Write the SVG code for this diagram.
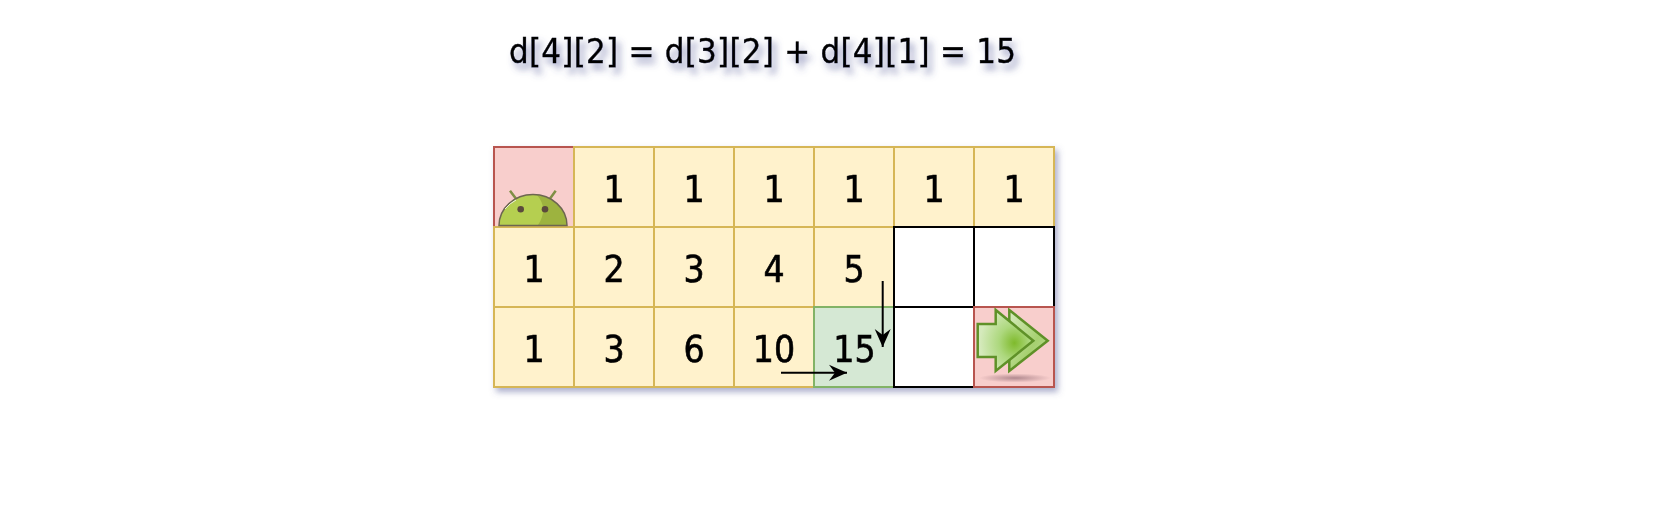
<svg xmlns="http://www.w3.org/2000/svg" width="1670" height="524" viewBox="0 0 1670 524">
<style>
.c{stroke-width:2}
.y{fill:#fff2cc;stroke:#d6b656}
.r{fill:#f8cecc;stroke:#b85450}
.g{fill:#d5e8d4;stroke:#82b366}
.w{fill:#fff;stroke:#000}
text{font-family:"DejaVu Sans Condensed","DejaVu Sans",sans-serif;font-stretch:condensed;fill:#000;stroke:#000;stroke-width:.6;text-anchor:middle}
.n{font-size:37px}
.t{font-size:34.500px;stroke-width:.4}
.l{stroke:#000;stroke-width:2;fill:none;marker-end:url(#a)}
</style>
<defs>
<filter id="s" x="-10%" y="-30%" width="120%" height="170%"><feDropShadow dx="3" dy="4" stdDeviation="3" flood-color="#5a5f9a" flood-opacity=".5"/></filter>
<filter id="st" x="-10%" y="-50%" width="120%" height="220%"><feDropShadow dx="4" dy="6" stdDeviation="3.500" flood-color="#4a5090" flood-opacity=".6"/></filter>
<marker id="a" markerUnits="userSpaceOnUse" markerWidth="20" markerHeight="18" refX="19" refY="9" orient="auto"><path d="M1 1L19 9L1 17L7 9Z" fill="#000"/></marker>
<linearGradient id="ga" x1="0" y1="0" x2="1" y2="1"><stop offset="0" stop-color="#d8ecc0"/><stop offset=".6" stop-color="#a6d070"/><stop offset="1" stop-color="#c3e0a0"/></linearGradient>
<radialGradient id="gb" cx=".66" cy=".54" r=".62"><stop offset="0" stop-color="#7fba2c"/><stop offset=".45" stop-color="#add87e"/><stop offset="1" stop-color="#d5eabc"/></radialGradient>
<radialGradient id="gs"><stop offset="0" stop-color="#a07880" stop-opacity=".8"/><stop offset="1" stop-color="#a07880" stop-opacity="0"/></radialGradient>
</defs>
<g id="title" filter="url(#st)"><text class="t" x="762.500" y="62.500" textLength="507">d[4][2] = d[3][2] + d[4][1] = 15</text></g>
<g id="grid" filter="url(#s)">
<g id="c00"><rect class="c r" x="494" y="147" width="80" height="80"/></g>
<g id="c10"><rect class="c y" x="574" y="147" width="80" height="80"/><text class="n" x="614" y="202">1</text></g>
<g id="c20"><rect class="c y" x="654" y="147" width="80" height="80"/><text class="n" x="694" y="202">1</text></g>
<g id="c30"><rect class="c y" x="734" y="147" width="80" height="80"/><text class="n" x="774" y="202">1</text></g>
<g id="c40"><rect class="c y" x="814" y="147" width="80" height="80"/><text class="n" x="854" y="202">1</text></g>
<g id="c50"><rect class="c y" x="894" y="147" width="80" height="80"/><text class="n" x="934" y="202">1</text></g>
<g id="c60"><rect class="c y" x="974" y="147" width="80" height="80"/><text class="n" x="1014" y="202">1</text></g>
<g id="c01"><rect class="c y" x="494" y="227" width="80" height="80"/><text class="n" x="534" y="282">1</text></g>
<g id="c11"><rect class="c y" x="574" y="227" width="80" height="80"/><text class="n" x="614" y="282">2</text></g>
<g id="c21"><rect class="c y" x="654" y="227" width="80" height="80"/><text class="n" x="694" y="282">3</text></g>
<g id="c31"><rect class="c y" x="734" y="227" width="80" height="80"/><text class="n" x="774" y="282">4</text></g>
<g id="c41"><rect class="c y" x="814" y="227" width="80" height="80"/><text class="n" x="854" y="282">5</text></g>
<g id="c02"><rect class="c y" x="494" y="307" width="80" height="80"/><text class="n" x="534" y="362">1</text></g>
<g id="c12"><rect class="c y" x="574" y="307" width="80" height="80"/><text class="n" x="614" y="362">3</text></g>
<g id="c22"><rect class="c y" x="654" y="307" width="80" height="80"/><text class="n" x="694" y="362">6</text></g>
<g id="c32"><rect class="c y" x="734" y="307" width="80" height="80"/><text class="n" x="774" y="362">10</text></g>
<g id="c42"><rect class="c g" x="814" y="307" width="80" height="80"/><text class="n" x="854.500" y="362">15</text></g>
<g id="c51"><rect class="c w" x="894" y="227" width="80" height="80"/></g>
<g id="c61"><rect class="c w" x="974" y="227" width="80" height="80"/></g>
<g id="c52"><rect class="c w" x="894" y="307" width="80" height="80"/></g>
<g id="c62"><rect class="c r" x="974" y="307" width="80" height="80"/></g>
</g>
<g id="robot">
<path d="M510 190.700L517 200M555.700 190.700L549 200" stroke="#7f8f45" stroke-width="2.500" fill="none"/>
<path d="M499 225.500A34 31 0 0 1 567 225.500Z" fill="#b5cf50"/>
<path d="M537 195A34 31 0 0 1 566.500 225H538C545 215 545 204 537 195Z" fill="#9db33f"/>
<path d="M499 225.500A34 31 0 0 1 567 225.500Z" fill="none" stroke="#6d6650" stroke-width="1.500"/>
<path d="M505 209Q510 203 516 200" fill="none" stroke="#fff" stroke-width="1" opacity=".8"/>
<circle cx="520.700" cy="209.300" r="3.300" fill="#5b4a3c"/><circle cx="545" cy="209.300" r="3.300" fill="#5b4a3c"/>
</g>
<g id="goal">
<ellipse cx="1015" cy="378" rx="36" ry="4.500" fill="url(#gs)"/>
<path d="M1009.300 310L1047.700 340.700L1009.300 371Z" fill="url(#ga)" stroke="#5f9128" stroke-width="2.500"/>
<path d="M977.700 324H995.700V310L1033.300 340.700L995.700 371V357H977.700Z" fill="url(#gb)" stroke="#5f9128" stroke-width="2.500"/>
</g>
<g id="connectors">
<path class="l" d="M781 372.700H847"/>
<path class="l" d="M882.700 281V347"/>
</g>
</svg>
